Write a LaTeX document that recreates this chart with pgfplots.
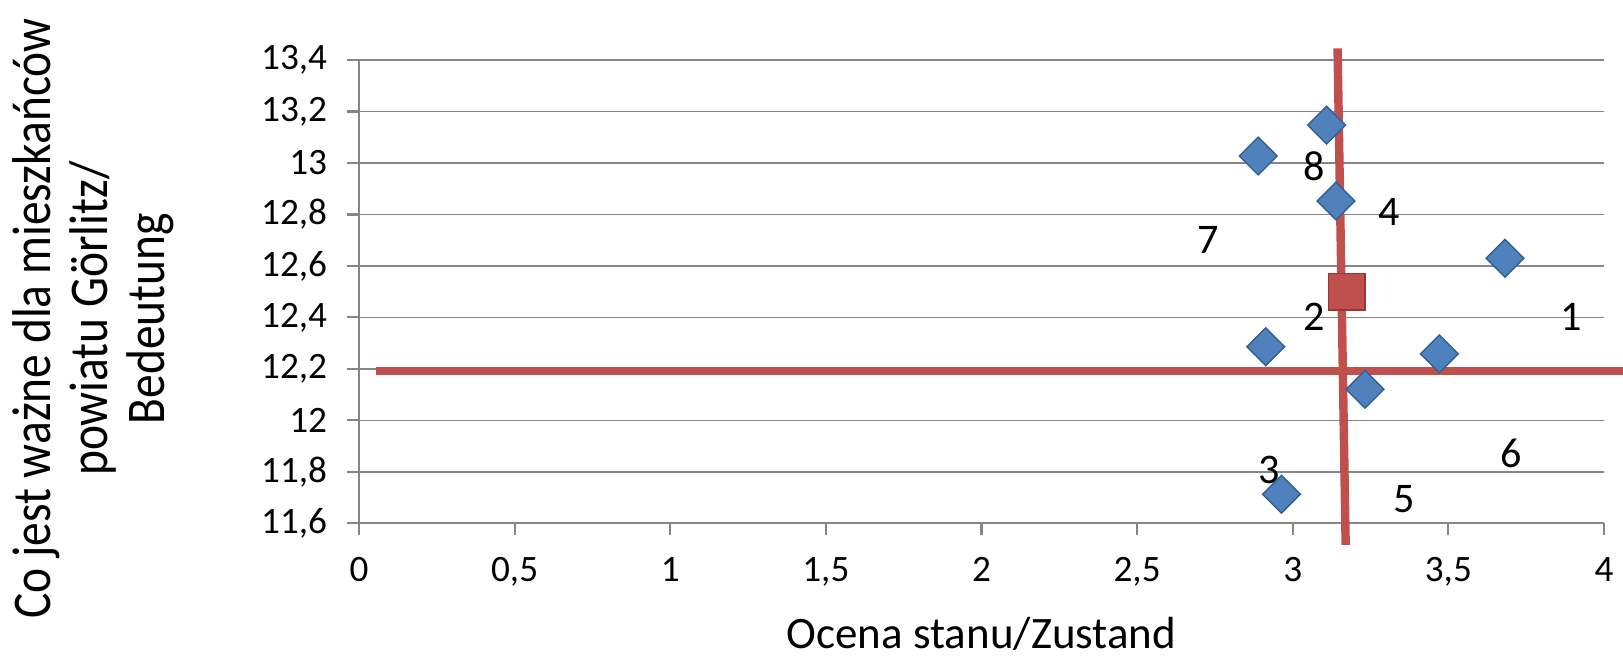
\documentclass[border=0pt]{standalone}
\usepackage{graphicx}
\usepackage{pgfplots}
\pgfplotsset{compat=1.18}
\usepackage{fontspec}
\setmainfont{Carlito}
\definecolor{gridgray}{RGB}{134,134,134}
\definecolor{xlblue}{RGB}{79,129,189}
\definecolor{xlbluedark}{RGB}{52,94,148}
\definecolor{xlred}{RGB}{192,80,77}
\definecolor{xlreddark}{RGB}{150,55,52}
\begin{document}
\begin{tikzpicture}
\begin{axis}[
  scale only axis, width=124.5mm, height=46.33mm,
  xmin=0, xmax=4, ymin=11.6, ymax=13.4,
  xtick={0,0.5,1,1.5,2,2.5,3,3.5,4},
  ytick={11.6,11.8,12,12.2,12.4,12.6,12.8,13,13.2,13.4},
  axis lines=left, axis line style={-, gridgray, line width=0.6pt},
  ymajorgrids, grid style={gridgray, line width=0.45pt},
  tick align=outside, major tick length=1.2mm,
  tick style={gridgray, line width=0.6pt},
  /pgf/number format/use comma,
  /pgf/number format/assume math mode=true,
  tick label style={font=\fontsize{10.6}{12.5}\selectfont, text=black},
  yticklabel style={xshift=-0.75mm},
  xticklabel style={yshift=-1.0mm},
  xlabel={Ocena stanu/Zustand},
  xlabel style={font=\fontsize{12.8}{15}\selectfont, at={(axis description cs:0.5,-0.271)}, anchor=base},
  ylabel={\scalebox{1}[1.15]{\fontsize{13.5}{14.2}\selectfont\begin{tabular}{@{}c@{}}Co jest ważne dla mieszkańców\\powiatu Görlitz/\\Bedeutung\end{tabular}}},
  ylabel style={inner sep=0pt, at={(axis description cs:-0.2112,0.442)}, anchor=center},
  clip=false,
]
\coordinate (O) at (rel axis cs:0,0);
\addplot[only marks, mark=square*, mark size=3.8pt,
  mark options={rotate=45, fill=xlblue, draw=xlbluedark, line width=0.4pt}]
  coordinates {
  (3.109,13.147) (2.889,13.027) (3.139,12.852) (3.682,12.630)
  (2.913,12.286) (3.471,12.258) (3.232,12.121) (2.964,11.713)
  };
\addplot[only marks, mark=square*, mark size=5.2pt,
  mark options={fill=xlred, draw=xlreddark, line width=0.4pt}]
  coordinates {(3.173,12.50)};
\addplot[xlred, line width=2.4pt] coordinates {(0.055,12.192) (4.061,12.192)};
\addplot[xlred, line width=2.4pt] coordinates {(3.144,13.445) (3.170,11.516)};
\begin{scope}[every node/.style={font=\fontsize{12}{14}\selectfont, anchor=center}]
\node at (axis cs:3.068,12.988) {8};
\node at (axis cs:3.310,12.811) {4};
\node at (axis cs:2.729,12.700) {7};
\node at (axis cs:3.068,12.403) {2};
\node at (axis cs:3.894,12.403) {1};
\node at (axis cs:3.701,11.872) {6};
\node at (axis cs:2.924,11.807) {3};
\node at (axis cs:3.358,11.693) {5};
\end{scope}
\end{axis}
\pgfresetboundingbox
\path[use as bounding box] (O) ++(-35.9mm,-13.37mm) rectangle ++(162.3mm,65.7mm);
\end{tikzpicture}
\end{document}
